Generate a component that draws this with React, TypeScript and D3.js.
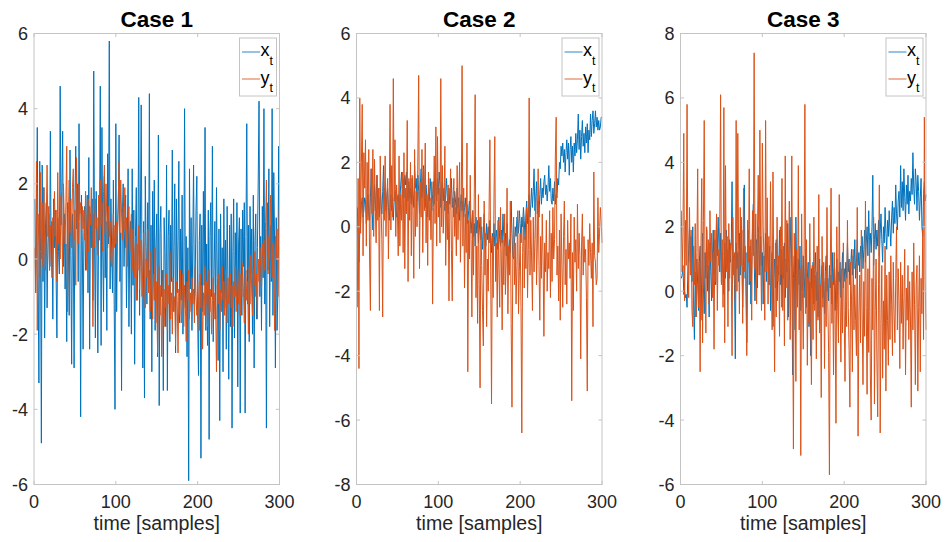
import React from "react";
import * as d3 from "d3";

// ---------- data ----------
const xTicks = [0, 100, 200, 300];
const titles = ["Case 1", "Case 2", "Case 3"];
const yDomains: [number, number][] = [[-6, 6], [-8, 6], [-6, 8]];

const case1X = [
  1.6, -0.9, 0.5, 3.5, -0.4, -3.3, 2.6, 0.2, -4.9, 2.5, -0.6, 1.9, -2.1, 0.8, 1.5, -1.3, 0.4, 1.2, -0.3, 3.4,
  -0.2, 1.0, -1.6, 1.6, 0.3, 1.3, -0.5, -2.1, 1.1, 0.2, -0.4, 4.6, 0.9, 1.8, 3.4, -0.2, 1.2, -0.8, 0.4, -2.2,
  1.5, 0.3, -1.5, 2.9, 0.1, -2.8, 1.2, 0.6, -2.9, 1.4, 3.0, 0.8, 2.0, -0.6, 3.6, 1.0, -4.2, 1.7, 0.5, -2.4,
  0.7, 1.4, -0.3, 0.6, 1.7, -0.9, 2.7, -2.4, 1.2, 0.3, 1.6, -1.1, 5.0, 0.4, -2.1, 1.8, 0.2, -2.5, 1.1, 0.6,
  4.6, -2.3, 3.5, 0.2, -1.4, 2.2, -0.5, 1.0, -1.9, 2.8, 0.4, 5.8, -0.8, 1.6, 0.1, -0.9, 2.1, -1.2, -4.0, 3.6,
  -1.4, 0.8, 1.4, 3.3, -0.6, 0.7, -3.5, 1.2, 2.0, -0.2, 0.9, 1.7, -1.3, 0.3, 2.4, -1.8, 0.5, 1.0, -2.0, 2.4,
  -0.7, 1.3, -2.8, 0.6, 1.9, -1.1, 0.2, 4.3, -1.5, 0.8, 4.1, -0.4, -2.9, 1.0, -3.7, 2.2, 0.3, -1.2, 1.5, -0.8,
  4.4, -1.6, 0.9, -3.0, 1.8, -0.5, 2.1, -1.9, 0.4, 1.2, -2.6, 3.3, -3.9, 0.7, 1.4, -1.0, -0.3, -3.5, 1.1, 0.2,
  -1.8, 2.5, -3.5, 0.6, 1.3, -2.2, 0.9, -0.6, 2.9, -1.4, 0.3, 2.0, -2.5, 1.6, -0.9, 0.5, 2.6, -1.7, 0.8, -1.1,
  1.7, -2.0, -0.6, 4.0, -1.3, 0.6, -2.6, 0.3, -5.9, 2.4, -0.8, 1.1, -1.9, 0.4, 2.5, -1.2, -0.5, 1.3, 2.2, -1.6,
  -3.1, 0.5, 1.2, -5.3, 0.9, -1.4, 1.8, -0.7, 3.5, -1.9, 0.4, -2.3, 1.3, -4.8, 0.6, 1.5, -1.0, 3.0, -2.2, -0.3,
  1.0, -1.6, 1.9, -0.5, -2.7, 0.8, -4.3, 1.2, -0.9, 0.3, -3.0, 1.6, -1.3, 0.5, -2.4, 1.4, -0.6, -3.2, 0.9, -1.8,
  1.2, -4.5, 0.2, 1.6, -2.1, 0.7, -1.0, 1.5, -3.4, 0.4, 1.1, -4.1, 0.8, -1.5, 1.3, -0.2, 1.5, -4.1, 0.6, 3.6,
  -1.2, 0.9, -2.2, 1.4, -0.4, 0.8, -2.0, 1.7, -2.9, 0.5, 1.2, -1.6, 0.3, 2.1, 4.2, -1.0, 0.6, -1.9, 1.4, -0.5,
  4.0, -1.2, 0.8, -4.5, 1.5, -0.3, 2.4, -1.8, 0.9, -0.6, 4.0, -1.5, 2.3, 0.4, -2.9, 1.1, -1.9, -0.8, 3.0, -1.6,
];

const case1Y = [
  0.3, -0.9, 2.6, -1.9, 0.3, 1.2, -0.5, 2.3, 0.0, 1.5, -0.2, 1.9, 0.4, -0.3, 1.0, 2.5, 0.6, 1.4, -0.3, 0.9,
  0.0, -0.5, 1.1, 0.3, 1.8, 0.6, 1.3, -0.6, 2.3, 0.4, 1.1, 0.0, 1.7, 0.9, -0.4, 2.0, 1.0, 0.4, 1.5, 3.0,
  -1.4, 1.2, 2.1, 0.7, 1.6, 0.3, 1.9, 2.4, 0.5, 1.3, -0.7, 2.7, 1.0, 0.4, 2.0, 1.2, 1.5, 0.6, 1.4, 0.8,
  1.3, 0.5, 1.8, -0.3, 1.0, 1.6, 0.2, 1.4, 0.9, 1.9, 0.6, -1.8, 1.2, 0.3, 1.6, 0.8, 1.1, 0.1, 1.7, 0.5,
  2.1, 0.9, 1.5, 0.2, 1.8, 2.5, 0.7, 2.0, 1.1, 0.3, 1.4, 0.6, 1.0, 0.0, -0.2, 0.5, 1.2, 0.3, 0.9, 0.4,
  1.0, 0.6, 1.6, 2.6, 0.7, 2.1, 1.2, 0.5, 1.4, 0.8, 1.9, 0.3, 1.1, -0.2, 0.9, 1.4, 0.2, 0.7, 1.2, -0.3,
  0.8, 0.2, -0.5, 0.6, -1.1, 0.4, -0.3, 0.9, -0.8, 0.1, 0.5, -1.0, -0.2, 0.7, -0.6, -1.3, 0.0, -0.5, 0.8, -0.9,
  -0.3, -1.4, 0.2, -0.8, -1.6, -0.4, -1.1, 0.3, -1.7, -0.6, -2.5, -0.9, -0.2, -1.5, -0.7, -2.6, -1.0, -0.3, -1.8, -0.8,
  -1.3, -0.4, -1.9, -0.7, -1.2, 0.2, -1.6, -0.9, -2.0, -0.5, -1.4, -1.0, -2.3, -0.6, -1.1, -2.5, -0.8, -1.5, -0.3, -1.7,
  -1.0, -0.4, -1.8, -0.7, -1.3, -2.2, -0.6, -1.1, -0.3, -1.6, -0.9, -1.4, -0.5, -1.2, -0.8, -1.7, -0.2, -1.0, -1.5, -0.6,
  -1.1, -1.9, -0.4, -1.3, -0.7, -2.4, -0.9, -1.5, -0.2, -1.2, -0.6, -1.8, -1.0, -0.3, -1.4, -0.8, -2.0, -1.1, -0.5, -1.6,
  -0.9, -1.3, -3.0, -0.7, -1.2, -0.4, -1.9, -0.8, -1.4, -0.2, -1.1, -0.6, -1.5, -0.3, -1.0, -1.7, -0.5, -1.2, -0.9, -0.4,
  -1.3, -0.7, -1.8, -0.6, -1.0, -0.2, -1.4, -0.8, -0.3, -1.2, -0.6, -1.5, -0.4, -1.0, -0.1, -0.9, -1.7, -0.5, -0.3, -1.1,
  -0.6, -2.0, -0.2, -1.2, 0.1, -0.8, -1.5, -0.3, -0.7, 0.2, -1.0, -0.4, -1.6, 0.0, -0.6, 0.3, -0.2, -0.8, 0.4, 0.1,
  0.5, -0.3, 1.0, 2.1, 0.2, -0.4, 0.6, 0.0, 1.7, 0.3, -0.5, 0.4, -0.2, -1.9, 0.6, 0.0, 0.8, -1.0, 0.7, 1.5,
];

const case2X = [
  0.6, -0.3, -1.1, -0.2, 0.1, 0.7, 0.9, 0.3, 0.5, 0.9, 0.8, 0.1, 0.6, 1.0, 0.4, 0.2, 0.9, 1.8, 0.6, -0.1,
  0.8, 1.3, 0.5, 1.0, 1.6, 0.6, 0.9, 0.3, 1.2, 0.7, 0.4, 1.1, 1.9, 0.8, 1.2, 0.5, 0.9, 1.2, 0.6, 0.2,
  0.7, 1.0, 0.5, 0.9, 0.2, 0.8, 1.1, 0.6, 0.3, 0.9, 1.0, 0.5, 0.8, 1.3, 1.7, 1.2, 1.5, 0.9, 1.6, 1.3,
  1.7, 1.1, 0.8, 1.4, 0.9, 1.2, 0.7, 1.5, 1.0, 0.6, 1.9, 1.2, 1.5, 0.8, 1.6, 1.1, 0.4, 1.3, 1.8, 0.9,
  1.4, 1.9, 1.0, 0.6, 1.3, 0.9, 0.3, 1.2, 0.8, 1.5, 1.1, 0.5, 1.0, 1.4, 0.7, 1.6, 1.2, 0.8, 1.5, 1.0,
  1.7, 1.3, 0.6, 1.1, 1.4, 0.8, 1.2, 0.5, 1.0, 1.5, 0.9, 0.4, 1.2, 0.7, 1.0, 1.5, 0.6, 0.9, 0.3, 1.1,
  0.8, 0.4, 1.2, 0.6, 0.9, 0.2, 0.7, 1.0, 0.5, 0.8, 0.3, 0.6, 0.9, 0.4, 0.7, 0.1, 0.5, 0.8, 0.3, -0.2,
  0.2, 0.5, -0.3, 0.1, -0.6, 0.3, -0.2, 0.2, -0.5, -0.1, 0.3, -0.4, 0.0, -0.7, -0.2, 0.4, -0.3, -0.6, 0.1, -0.4,
  0.0, -0.5, 0.2, -0.3, -0.8, -0.2, -0.5, 0.1, -0.6, -0.3, -0.1, -0.7, -0.2, 0.3, -0.4, -0.6, -0.1, -0.5, 0.4, -0.3,
  -0.6, -0.2, -0.9, 0.1, -0.5, -1.1, -0.4, -0.8, 0.8, -0.2, -0.9, -1.0, -0.5, 0.0, -0.3, 0.3, 0.2, -0.2, 0.5, 0.1,
  -0.5, 0.3, 0.0, 0.6, 0.2, -0.4, 0.4, 0.8, 0.1, 0.5, 1.0, 0.3, 0.7, 1.2, 0.6, 1.1, 1.8, 0.5, 0.9, 1.4,
  0.4, 0.8, 0.3, 1.0, 1.5, 0.7, 1.2, 0.9, 1.4, 1.6, 1.0, 1.3, 0.8, 1.2, 1.9, 1.1, 1.5, 0.8, 0.7, 1.2,
  0.8, 1.4, 0.7, 1.0, 0.9, 1.5, 1.3, 2.0, 1.8, 2.5, 2.2, 2.6, 2.0, 2.4, 1.7, 2.3, 2.7, 2.1, 2.6, 1.6,
  2.4, 2.8, 2.0, 2.5, 1.7, 2.6, 2.2, 2.9, 2.3, 2.7, 3.5, 2.4, 3.0, 2.1, 2.8, 3.3, 2.5, 2.9, 2.3, 3.1,
  2.6, 3.2, 2.3, 3.0, 2.7, 3.5, 2.8, 3.3, 3.6, 2.9, 3.2, 3.6, 3.1, 3.4, 3.0, 3.3, 3.0, 3.1, 3.4, 3.4,
];

const case2Y = [
  -2.5, 1.5, -4.4, 4.0, -0.2, 2.0, 3.8, -0.9, 2.3, 1.2, 2.7, -0.6, 2.0, 0.2, 2.4, -1.0, -2.6, 1.8, 0.4, 2.4,
  -0.3, 2.1, 0.6, -0.5, 1.6, 0.2, 1.2, -2.6, 2.2, 0.6, -0.4, -2.8, 1.4, 0.2, 2.2, -0.3, 0.9, 1.5, -1.0, 0.7,
  3.8, -0.1, 1.9, 0.3, 4.6, 0.8, 2.7, -0.3, 1.3, 0.5, -0.9, 2.2, -0.6, 1.0, 0.2, 1.7, -0.8, 2.3, -1.3, 1.2,
  0.4, 3.3, -1.7, 1.5, 0.2, 2.0, -0.9, 1.6, 0.5, -1.6, 2.4, -0.3, 1.1, 0.0, 2.2, 4.7, -1.3, 1.4, 0.3, 2.4,
  -0.8, 1.8, 0.5, 2.6, -0.5, 1.0, -1.2, 1.7, 0.2, 0.9, -0.4, 1.4, -2.4, 0.6, 2.2, 0.1, 3.1, -0.6, 2.8, 0.3,
  1.2, -0.5, 4.6, 0.0, 1.9, -0.2, 0.7, 2.5, -1.2, 0.8, -0.4, 1.3, -2.3, 0.5, 1.8, -0.7, -2.3, 0.9, 1.5, -0.3,
  0.6, -0.9, 1.9, -0.4, 0.8, 2.0, -1.1, 0.3, 5.0, -0.6, 1.2, -1.9, 0.4, -0.8, 2.6, -4.5, 0.2, -1.0, 1.6, -0.4,
  -2.8, 0.5, -1.5, 1.2, 4.1, -2.2, -0.6, -3.0, 1.0, -1.8, -5.0, 0.3, -1.2, -2.6, -3.7, 0.8, -1.5, -0.2, -3.1, -1.0,
  -2.0, 0.5, 2.7, -1.4, -5.5, -0.3, -2.2, 0.9, 2.8, -1.7, -0.5, -2.8, 0.2, -1.3, -2.5, 0.6, -1.0, -3.2, -0.4, -1.8,
  0.4, -2.1, -1.0, 1.2, -2.7, -0.6, -1.5, 0.8, -3.0, -5.6, -0.9, 0.3, -1.8, -0.5, -2.4, -1.2, 0.5, -2.7, -1.4, -0.2,
  -2.5, -6.4, -0.8, 0.4, -1.9, -0.3, -1.3, 0.6, -2.2, -0.7, 4.0, -1.5, 0.2, -1.0, -2.6, 0.3, -1.4, -0.4, 0.9, -1.8,
  -0.6, 1.8, -1.2, -2.9, -0.3, -1.6, 0.4, -1.0, -3.4, -0.5, -1.4, 0.2, -2.0, -0.8, -1.3, 0.5, -2.2, -0.2, -1.7, 0.6,
  -1.0, -0.4, 2.2, 3.4, -1.5, -0.6, -2.3, -0.1, -2.9, 0.4, -1.2, -2.5, -0.3, 0.8, -1.8, -0.7, -2.4, 0.2, -1.0, -0.5,
  -1.6, 0.4, -5.4, -0.8, -2.6, 0.3, -1.1, -0.4, -2.0, 0.7, -1.3, -0.2, -0.9, -4.1, -0.6, 0.4, -1.5, -0.3, -1.1, -0.7,
  -2.2, -5.1, -0.4, -1.2, 0.1, -0.8, -1.6, -0.5, -3.1, 1.7, -0.9, -1.1, -1.8, -1.6, 0.9, -0.8, -0.2, 0.6, 0.2, -0.5,
];

const case3X = [
  0.4, 0.5, 0.8, -0.1, 0.0, -0.2, -0.1, -0.5, 0.6, 1.3, 2.0, 0.9, 1.7, 0.3, 2.0, -0.4, -1.5, 0.6, -0.8, 1.0,
  0.2, -0.6, 0.9, 1.4, -0.9, 0.5, 1.8, 0.1, -0.7, 1.2, 0.4, 1.9, 0.0, 0.8, -0.8, 1.5, 0.6, -0.3, 1.0, 1.9,
  0.5, 1.6, 0.2, 2.2, 1.1, 2.3, 1.4, 0.6, 1.8, 0.3, 1.2, 0.8, -0.1, 1.5, 0.4, 1.9, 0.7, 1.3, 0.0, 1.6,
  0.9, 1.4, 3.4, 0.6, 1.1, 0.2, -2.1, 1.5, 0.7, 1.2, 0.3, 1.8, 0.5, 2.3, 1.0, -0.5, 0.8, 3.3, 0.4, 1.2,
  -1.6, 0.6, 1.9, 0.2, 1.4, -0.4, 0.8, 2.0, 2.7, 1.1, -0.3, 0.9, 1.6, 0.1, 2.0, 1.3, 0.5, 1.7, 0.8, 1.2,
  -0.4, 1.1, 0.6, 1.8, 0.3, 1.5, 0.9, 0.2, 1.4, -0.6, 0.7, 1.2, -1.1, 0.4, 1.0, 0.1, 1.6, -0.3, 0.8, 0.5,
  1.9, 0.2, 1.3, -0.5, 0.9, 0.4, 1.5, -0.2, 1.0, 0.6, 2.1, -0.8, 0.3, 1.2, 2.3, 0.7, -2.6, 0.4, 1.1, -1.2,
  2.3, 0.5, -0.3, 1.0, 0.2, 1.4, -0.6, 0.8, 0.0, 1.1, -0.2, 0.6, 1.3, -0.5, 0.4, 0.9, -1.1, 0.3, -2.0, 0.7,
  0.1, 0.9, -0.4, 0.5, 1.2, -0.3, 0.6, -0.8, 0.2, 1.0, -0.5, 0.4, 0.8, -0.2, 0.3, -0.7, 0.6, 1.1, 0.0, 0.4,
  -0.3, 0.8, 0.1, 0.5, -0.4, 1.2, 0.2, 0.7, -0.6, 0.4, 1.0, -0.1, 0.6, 0.3, 0.9, -0.2, 0.5, 1.2, 0.1, 0.7,
  0.3, 0.9, 0.4, 1.5, 0.6, 1.0, 0.2, 0.8, 1.3, 0.5, 1.1, 0.7, 1.6, 0.4, 0.9, 1.6, 0.8, 1.2, 0.6, 1.4,
  1.0, 1.7, 0.7, 1.3, 1.9, 0.9, 1.5, 2.0, 1.1, 2.5, 1.4, 1.8, 1.2, 2.0, 3.6, 0.8, 1.6, 2.1, 1.3, 1.9,
  1.4, 2.2, 1.1, 1.8, 2.4, 1.6, 0.9, 2.0, 1.5, 2.6, 1.8, 1.3, 2.2, 1.7, 2.5, 1.9, 1.4, 2.3, 2.8, 1.8,
  2.6, 2.1, 3.3, 2.4, 1.9, 2.8, 3.1, 2.3, 3.9, 2.6, 3.4, 2.5, 3.8, 2.9, 2.2, 3.3, 2.7, 3.6, 2.4, 3.1,
  2.8, 3.5, 3.0, 4.3, 3.2, 2.7, 3.8, 3.4, 2.5, 3.6, 3.1, 2.2, 2.9, 3.5, 2.0, 1.7, 3.0, 3.4, 2.8, 3.0,
];

const case3Y = [
  2.5, 0.6, 1.8, 4.9, -0.3, 2.2, 0.8, 5.8, 1.0, -0.2, 2.6, 0.5, 1.9, -0.6, -1.1, 1.4, 0.2, 2.1, -0.8, 1.2,
  3.8, -0.5, 0.9, -2.5, 1.5, 3.5, -1.6, 2.2, 5.3, 0.4, -1.3, 2.0, 0.7, 1.6, -0.4, 2.5, 0.9, 1.8, -0.2, 1.2,
  -1.8, 1.9, 0.3, 2.4, -0.6, 1.3, 0.8, 2.0, 6.1, 0.2, 1.6, -0.5, 5.7, -1.6, 3.9, 0.6, 1.7, -1.1, 2.1, 0.4,
  1.5, 0.9, -2.0, 2.3, 0.5, 1.2, -0.3, 5.3, 0.0, 4.9, 1.3, -0.7, 2.6, 0.8, 1.9, -1.0, 3.2, 0.6, 1.4, -0.2,
  -2.0, 2.2, 0.9, 3.8, 0.3, 1.6, -0.9, 2.5, 1.1, 7.4, 0.7, 2.4, -0.4, 1.8, 3.6, 0.5, 5.0, 1.2, -0.6, 4.6,
  2.0, 1.0, -0.9, 5.3, 0.6, 2.9, -0.4, 1.7, 0.2, 3.4, 0.8, -1.2, 3.7, 0.4, -2.5, 1.5, -0.8, 2.3, 0.3, 1.1,
  -1.4, 2.0, 0.5, 3.5, -0.6, 1.4, -1.7, 4.2, 0.1, 2.2, -0.9, 1.0, 2.8, -1.5, 0.6, 4.2, -0.3, -4.9, 1.8, 0.2,
  -2.8, 1.3, -0.5, 3.9, -1.2, 0.7, -5.1, 2.4, 0.0, -1.8, 1.1, 5.8, -0.7, 1.6, -2.3, 0.4, -1.0, 2.1, -0.4, -2.9,
  0.8, -1.5, 2.3, -0.6, 0.5, -2.1, 1.4, -0.9, 3.0, -1.3, 0.2, -3.3, 1.7, -0.5, 0.9, -2.4, 0.4, -1.1, 2.6, -0.3,
  -1.9, -5.7, 0.6, 3.2, -1.0, 0.3, -2.6, 1.2, -0.8, -4.1, 2.0, -0.4, -1.6, 3.0, -0.2, -2.2, 0.7, -1.3, 1.5, -0.6,
  -2.8, 0.4, -1.1, 2.2, -0.5, -1.8, -3.6, 0.9, -0.3, -2.5, 1.3, -1.2, 0.2, -0.9, -2.0, 2.6, -4.5, -0.7, 0.5, -1.6,
  1.9, -0.8, -2.9, 0.3, -1.4, 2.8, -0.5, -3.2, 0.7, -1.9, 1.6, -2.6, -4.0, 0.4, -1.2, 2.3, -3.5, -0.6, 1.0, -2.2,
  -3.9, 0.2, 3.3, -4.4, -1.0, 0.8, -2.7, -0.3, -1.8, 1.4, -3.1, 0.5, -0.9, -2.3, 0.6, -1.5, 1.1, -0.4, -2.0, 0.9,
  -0.7, -1.6, 0.4, 2.0, -1.2, 0.7, -0.3, -2.4, 0.9, -1.0, 0.5, -1.8, -0.2, 1.3, -2.6, 0.1, -0.9, 0.8, -1.5, 0.3,
  -0.8, -3.6, 0.6, -1.2, 1.5, -0.4, -2.9, 0.2, 0.8, -3.1, -0.5, 1.1, -2.5, 0.4, -0.7, 1.9, -1.5, 5.4, 0.3, -1.2,
];

const seriesX = [case1X, case2X, case3X];
const seriesY = [case1Y, case2Y, case3Y];

// ---------- layout ----------
const W = 947;
const H = 542;
const panelLefts = [34, 356.5, 680.5];
const panelWidth = 245.5;
const top = 33.5;
const bottom = 484.5;
const BLUE = "#0072BD";
const ORANGE = "#D95319";
const LEGEND_BLUE = "#4d9bd6";
const LEGEND_ORANGE = "#e4825a";
const AXIS = "#c4c4c4";
const TEXT = "#262626";
const FONT = "Liberation Sans, Arial, Helvetica, sans-serif";

function Panel({ idx }: { idx: number }) {
  const left = panelLefts[idx];
  const right = left + panelWidth;
  const x = d3.scaleLinear().domain([0, 300]).range([left, right]);
  const [y0, y1] = yDomains[idx];
  const y = d3.scaleLinear().domain([y0, y1]).range([bottom, top]);
  const yTicks = d3.range(y0, y1 + 0.001, 2);
  const line = d3
    .line<number>()
    .x((_, i) => x(i + 1))
    .y((v) => y(v));
  const tl = 3.5;
  const lgLeft = right - 40;
  const lgTop = top + 4.5;
  return (
    <g>
      <path d={line(seriesX[idx]) || ""} fill="none" stroke={BLUE} strokeWidth={1} />
      <path d={line(seriesY[idx]) || ""} fill="none" stroke={ORANGE} strokeWidth={1} />
      {/* box */}
      <rect x={left} y={top} width={panelWidth} height={bottom - top} fill="none" stroke={AXIS} strokeWidth={1} />
      {/* x ticks */}
      {xTicks.map((t) => (
        <g key={"x" + t}>
          <line x1={x(t)} x2={x(t)} y1={bottom} y2={bottom - tl} stroke={AXIS} />
          <line x1={x(t)} x2={x(t)} y1={top} y2={top + tl} stroke={AXIS} />
          <text x={x(t)} y={508} textAnchor="middle" fontSize={18} fill={TEXT} fontFamily={FONT}>
            {t}
          </text>
        </g>
      ))}
      {/* y ticks */}
      {yTicks.map((t) => (
        <g key={"y" + t}>
          <line x1={left} x2={left + tl} y1={y(t)} y2={y(t)} stroke={AXIS} />
          <line x1={right} x2={right - tl} y1={y(t)} y2={y(t)} stroke={AXIS} />
          <text x={left - 6} y={y(t) + 6.5} textAnchor="end" fontSize={18} fill={TEXT} fontFamily={FONT}>
            {t}
          </text>
        </g>
      ))}
      {/* title */}
      <text x={(left + right) / 2} y={26.5} textAnchor="middle" fontSize={22.5} fontWeight="bold" fill="#000" fontFamily={FONT}>
        {titles[idx]}
      </text>
      {/* x label */}
      <text x={(left + right) / 2} y={530} textAnchor="middle" fontSize={19.6} fill={TEXT} fontFamily={FONT}>
        time [samples]
      </text>
      {/* legend */}
      <rect x={lgLeft} y={lgTop} width={37} height={58} fill="#fff" stroke={AXIS} strokeWidth={1} />
      <line x1={lgLeft + 2.5} x2={lgLeft + 20.5} y1={lgTop + 14} y2={lgTop + 14} stroke={LEGEND_BLUE} strokeWidth={1.2} />
      <text x={lgLeft + 21} y={lgTop + 18} fontSize={18} fill="#000" fontFamily={FONT}>
        x<tspan fontSize={12.5} dy={8.5}>t</tspan>
      </text>
      <line x1={lgLeft + 2.5} x2={lgLeft + 20.5} y1={lgTop + 41} y2={lgTop + 41} stroke={LEGEND_ORANGE} strokeWidth={1.2} />
      <text x={lgLeft + 21} y={lgTop + 45.5} fontSize={18} fill="#000" fontFamily={FONT}>
        y<tspan fontSize={12.5} dy={8.5}>t</tspan>
      </text>
    </g>
  );
}

export default function App() {
  return (
    <svg
      width={W}
      height={H}
      viewBox={`0 0 ${W} ${H}`}
      style={{ position: "absolute", left: 0, top: 0, background: "#fff" }}
    >
      <rect width={W} height={H} fill="#fff" />
      {[0, 1, 2].map((i) => (
        <Panel key={i} idx={i} />
      ))}
    </svg>
  );
}
